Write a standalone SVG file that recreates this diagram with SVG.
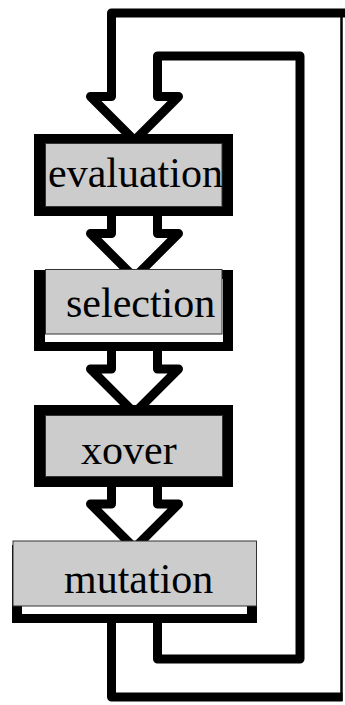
<svg xmlns="http://www.w3.org/2000/svg" width="345" height="705" viewBox="0 0 345 705">
  <style>
    .flow { fill: none; stroke: #000; stroke-width: 9; stroke-linejoin: round; stroke-linecap: butt; }
    .thin { fill: none; stroke: #000; stroke-width: 2.5; }
    .frame { fill: #000; }
    .gap { fill: #fff; }
    .face { fill: #cccccc; stroke: #333; stroke-width: 1; }
    text { font-size: 42px; fill: #000; }
  </style>
  <rect width="345" height="705" fill="#fff"/>

  <!-- block arrows: the feedback loop and the step-to-step arrows -->
  <g id="connectors">
    <!-- loop back from mutation to evaluation -->
    <path class="flow" d="M345 13 H111.5 V96.5 H90.5 L134.5 140.5 L178.5 96.5 H157.5 V56 H300 V659 H157.5 V623"/>
    <path class="flow" d="M111.5 623 V697 H342.5"/>
    <line class="thin" x1="341.5" y1="13" x2="341.5" y2="701"/>
    <!-- evaluation to selection -->
    <path class="flow" d="M111.5 216 V233.5 H90.5 L134.5 277.5 L178.5 233.5 H157.5 V216"/>
    <!-- selection to xover -->
    <path class="flow" d="M111.5 351 V369 H90.5 L134.5 413 L178.5 369 H157.5 V351"/>
    <!-- xover to mutation -->
    <path class="flow" d="M111.5 487 V504 H90.5 L134.5 548 L178.5 504 H157.5 V487"/>
  </g>

  <g id="evaluation">
    <rect class="frame" x="34" y="134" width="199" height="82"/>
    <rect class="face" x="45.5" y="143.5" width="176.5" height="63"/>
    <text x="48" y="187" font-family="Liberation Serif, Times New Roman, serif">evaluation</text>
  </g>

  <g id="selection">
    <rect class="frame" x="34" y="270" width="199" height="81"/>
    <rect class="gap" x="45" y="279" width="178" height="63"/>
    <rect class="face" x="45.5" y="269.5" width="176.5" height="64.5"/>
    <text x="66" y="317" font-family="Liberation Serif, Times New Roman, serif">selection</text>
  </g>

  <g id="xover">
    <rect class="frame" x="34" y="405" width="199" height="82"/>
    <rect class="face" x="45.5" y="415.5" width="177" height="61"/>
    <text x="81" y="464" font-family="Liberation Serif, Times New Roman, serif">xover</text>
  </g>

  <g id="mutation">
    <rect class="frame" x="12" y="545" width="245" height="78"/>
    <rect class="gap" x="22" y="606" width="225" height="8"/>
    <rect class="face" x="13" y="541" width="243.5" height="65"/>
    <text x="64" y="593" font-family="Liberation Serif, Times New Roman, serif">mutation</text>
  </g>
</svg>
